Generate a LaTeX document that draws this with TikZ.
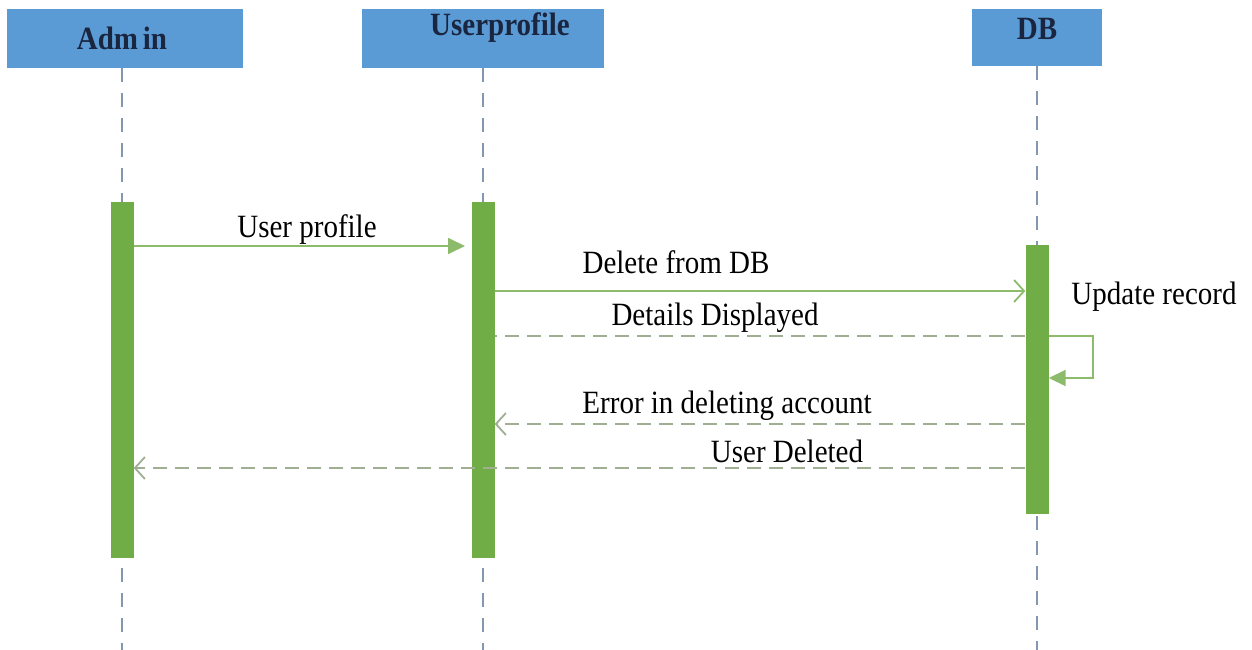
\documentclass[tikz,border=0pt]{standalone}
\usepackage{fontspec}
\usepackage{graphicx}
\setmainfont{Liberation Serif}
\usetikzlibrary{arrows.meta}
\definecolor{hdrblue}{HTML}{5B9BD5}
\definecolor{bargreen}{HTML}{70AD47}
\definecolor{msggreen}{HTML}{8DBB6C}
\definecolor{retgray}{HTML}{A0AE94}
\definecolor{lifecol}{HTML}{8497B0}
\definecolor{navy}{HTML}{1A2540}
\newcommand{\tallt}[1]{\scalebox{1}[1.12]{#1}}
\begin{document}
\begin{tikzpicture}[x=1pt,y=-1pt,
  hdr/.style={draw=none,fill=hdrblue,inner sep=0pt,anchor=north west},
  hdrtext/.style={text=navy,font=\fontsize{29}{31}\selectfont\bfseries,inner sep=0pt},
  actbar/.style={draw=none,fill=bargreen,inner sep=0pt,minimum width=23pt,anchor=north},
  lifeline/.style={draw=lifecol,line width=1.4pt,dash pattern=on 14pt off 11pt},
  msgtext/.style={text=black,font=\fontsize{29}{31}\selectfont,inner sep=0pt},
  callmsg/.style={draw=msggreen,line width=1.8pt},
  retmsg/.style={draw=retgray,line width=1.8pt,dash pattern=on 14pt off 8pt},
  filltip/.style={-{Triangle[length=17pt,width=16pt]}},
  opentip/.style={-{Straight Barb[length=10pt,width=22pt]}}]
\useasboundingbox (0,0) rectangle (1252,650);
% headers
\node[hdr,minimum width=236pt,minimum height=59pt] (admin) at (7,9) {};
\node[hdr,minimum width=242pt,minimum height=59pt] (uprof) at (362,9) {};
\node[hdr,minimum width=130pt,minimum height=57pt] (db) at (972,9) {};
\node[hdrtext] (adminT) at (122,38) {\tallt{Adm\,in}};
\node[hdrtext] (uprofT) at (500,28) {\tallt{Userprofile}};
\node[hdrtext] (dbT) at (1037,29) {\tallt{DB}};
% lifeline ends
\coordinate (aEnd) at (122,650);
\coordinate (uEnd) at (483,650);
\coordinate (dEnd) at (1037,650);
\draw[lifeline] (admin.south -| aEnd) -- (aEnd);
\draw[lifeline] (uprof.south -| uEnd) -- (uEnd);
\draw[lifeline] (db.south -| dEnd) -- (dEnd);
% activation bars
\node[actbar,minimum height=356pt] (actA) at (122,202) {};
\node[actbar,minimum height=356pt] (actU) at (483,202) {};
\node[actbar,minimum height=269pt] (actD) at (1037,245) {};
% message levels
\coordinate (y1) at (0,246);
\coordinate (y2) at (0,291);
\coordinate (y3) at (0,336);
\coordinate (y4) at (0,378);
\coordinate (y5) at (0,424);
\coordinate (y6) at (0,468);
\coordinate (loopx) at (1093,0);
\coordinate (tip1) at (465,246);
% messages
\draw[callmsg,filltip] (actA.east |- y1) -- (tip1);
\draw[callmsg,opentip] (actU.east |- y2) -- (actD.west |- y2);
\draw[retmsg] (actD.west |- y3) -- (actU.east |- y3);
\draw[callmsg,filltip] (actD.east |- y3) -- (loopx |- y3) -- (loopx |- y4) -- (actD.east |- y4);
\draw[retmsg,opentip] (actD.west |- y5) -- (actU.east |- y5);
\draw[retmsg,opentip] (actD.west |- y6) -- (actA.east |- y6);
% labels
\node[msgtext] (l1) at (307,230) {\tallt{User profile}};
\node[msgtext] (l2) at (676,262) {\tallt{Delete from DB}};
\node[msgtext] (l3) at (715,318) {\tallt{Details Displayed}};
\node[msgtext] (l4) at (1154,297) {\tallt{Update record}};
\node[msgtext] (l5) at (727,406) {\tallt{Error in deleting account}};
\node[msgtext] (l6) at (787,451) {\tallt{User Deleted}};
\end{tikzpicture}
\end{document}
